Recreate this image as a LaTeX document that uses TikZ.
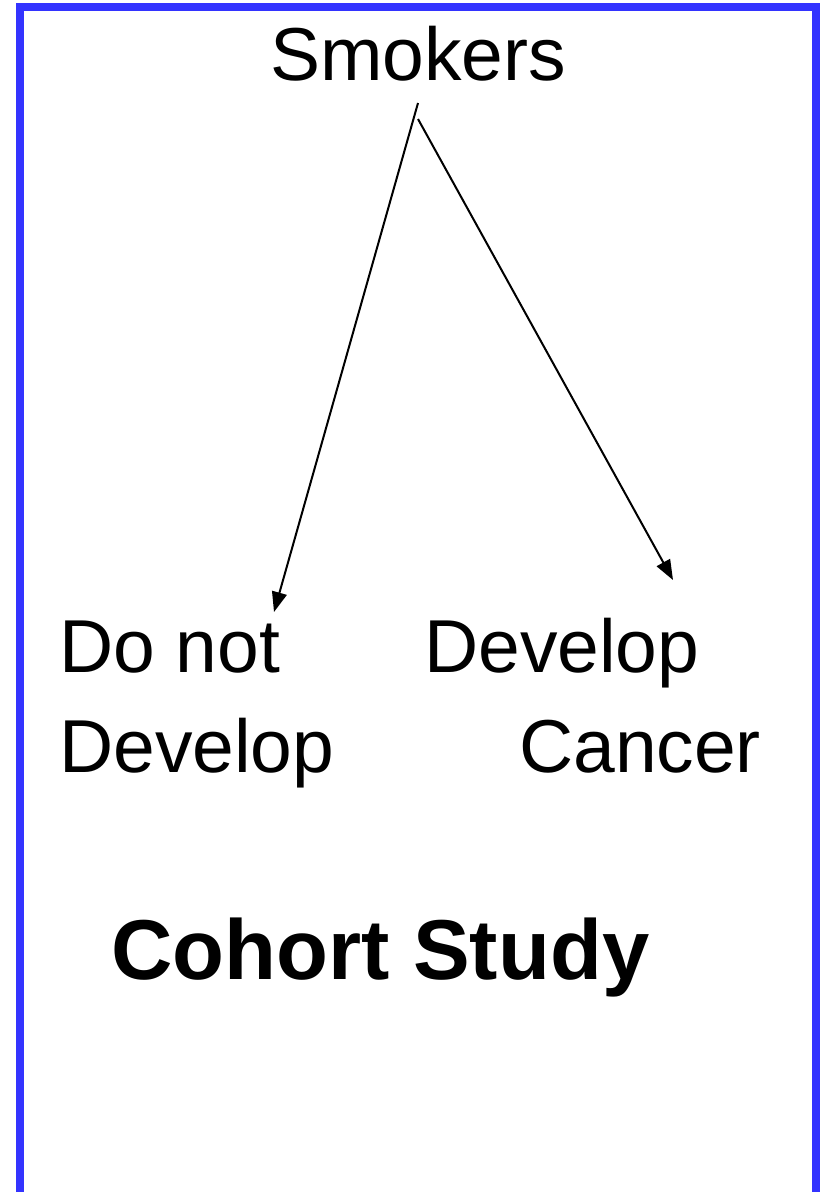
\documentclass[tikz,border=0pt]{standalone}
\usepackage{fontspec}
\setmainfont{Liberation Sans}
\usepackage{tikz}
\usetikzlibrary{positioning, arrows.meta}
\definecolor{frameblue}{RGB}{51, 51, 255}

\begin{document}
\begin{tikzpicture}[x=1pt, y=-1pt, >={Triangle[length=20pt, width=15pt]},
    label/.style={inner sep=0pt, anchor=base west, align=left,
      font=\fontsize{75}{100}\selectfont},
    title/.style={inner sep=0pt, anchor=base west,
      font=\fontsize{85}{100}\selectfont\bfseries},
    arr/.style={->, line width=2pt}]
  \useasboundingbox (0,0) rectangle (821,1192);
  \clip (0,0) rectangle (821,1192);
  \draw[frameblue, line width=8pt] (20,1230) -- (20,7) -- (816,7) -- (816,1230);
  % texts
  \node[label, anchor=base] (smokers) at (418,80) {Smokers};
  \node[label] (nocancer) at (59,772) {Do not\\Develop};
  \node[label] (cancer)   at (424,772) {Develop\\\hspace*{95pt}Cancer};
  \node[title] (cohort)   at (111,979) {Cohort Study};
  % ends of the arrows
  \coordinate (sl) at (418,103);
  \coordinate (sr) at (418,119);
  \coordinate (tl) at (274,612);
  \coordinate (tr) at (673,580);
  \draw[arr] (sl) -- (tl);
  \draw[arr] (sr) -- (tr);
\end{tikzpicture}
\end{document}
